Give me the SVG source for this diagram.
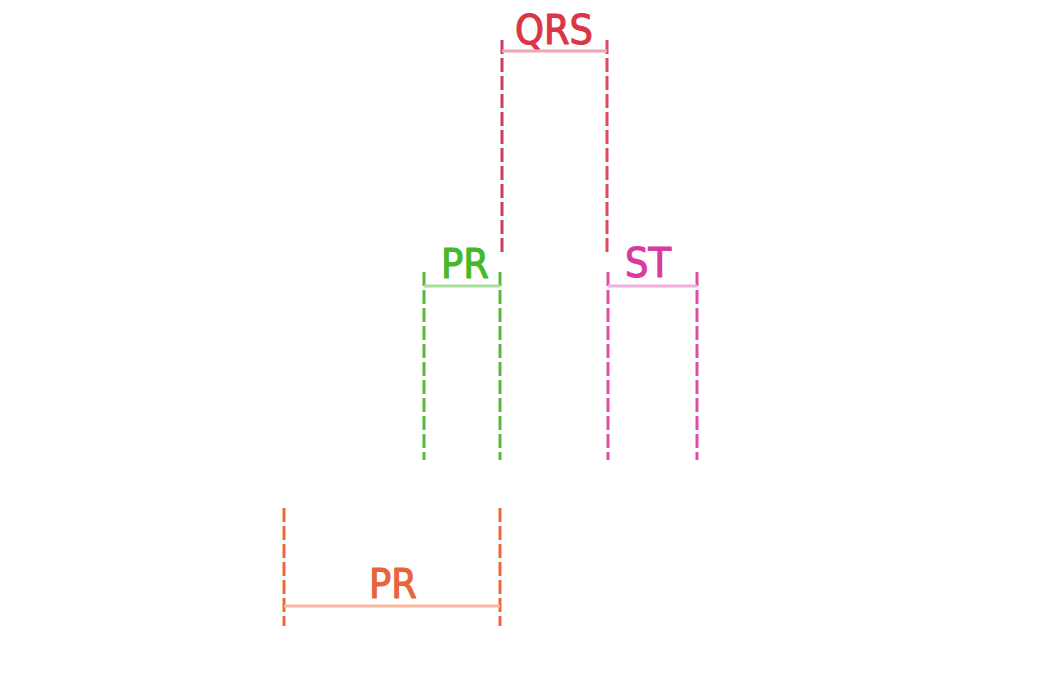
<svg xmlns="http://www.w3.org/2000/svg" width="1047" height="683" viewBox="0 0 1047 683">
<style>
.t{font-family:"DejaVu Sans Condensed","DejaVu Sans",sans-serif;font-stretch:condensed;font-size:41px;text-anchor:middle;stroke-width:1.1;stroke-linejoin:round}
.d{fill:none;stroke-width:3;stroke-dasharray:14 4}
.b{fill:none;stroke-width:3}
</style>
<rect width="1047" height="683" fill="#ffffff"/>
<g id="connectors">
<line class="d" x1="502" y1="40" x2="502" y2="252" stroke="#cc3d5c"/>
<line class="d" x1="607" y1="40" x2="607" y2="252" stroke="#e2475f"/>
<line class="d" x1="424" y1="272" x2="424" y2="460" stroke="#58b83c"/>
<line class="d" x1="500" y1="272" x2="500" y2="460" stroke="#58b83c"/>
<line class="d" x1="608" y1="272" x2="608" y2="460" stroke="#de4ea8"/>
<line class="d" x1="697" y1="272" x2="697" y2="460" stroke="#de4ea8"/>
<line class="d" x1="284" y1="508" x2="284" y2="626" stroke="#eb6a3c"/>
<line class="d" x1="500" y1="508" x2="500" y2="626" stroke="#eb6a3c"/>
</g>
<g id="qrs">
<line class="b" x1="502" y1="51" x2="607" y2="51" stroke="#f2a6b4"/>
<text class="t" x="554" y="44" fill="#dc3548" stroke="#dc3548">QRS</text>
</g>
<g id="pr-top">
<line class="b" x1="424" y1="286" x2="500" y2="286" stroke="#aadc9c"/>
<text class="t" x="465" y="278" fill="#46b82c" stroke="#46b82c">PR</text>
</g>
<g id="st">
<line class="b" x1="608" y1="286" x2="697" y2="286" stroke="#f2b0dc"/>
<text class="t" x="648" y="277" fill="#d93aa0" stroke="#d93aa0">ST</text>
</g>
<g id="pr-bottom">
<line class="b" x1="284" y1="606" x2="500" y2="606" stroke="#f6b6a0"/>
<text class="t" x="393" y="598" fill="#e8643c" stroke="#e8643c">PR</text>
</g>
</svg>
